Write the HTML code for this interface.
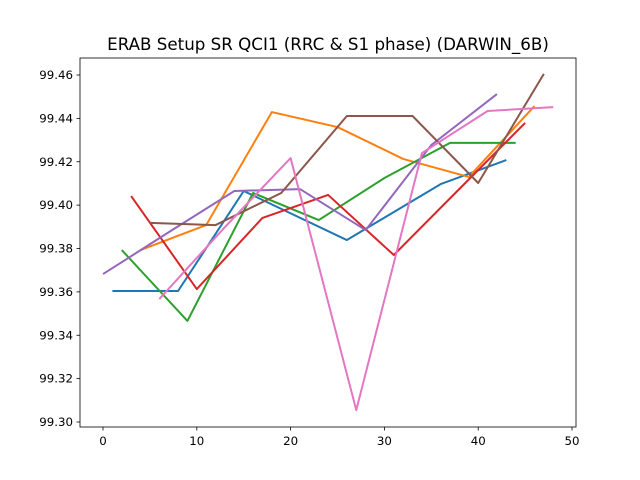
<!DOCTYPE html>
<html><head><meta charset="utf-8"><style>
body{margin:0;background:#fff}
svg{display:block;font-family:"DejaVu Sans","Liberation Sans",sans-serif}
</style></head><body>
<svg id="chart" width="640" height="480" viewBox="0 0 640 480" xmlns="http://www.w3.org/2000/svg">
<rect width="640" height="480" fill="#fff"/>
<text x="328" y="50" text-anchor="middle" font-size="16.7">ERAB Setup SR QCI1 (RRC &amp; S1 phase) (DARWIN_6B)</text>
<g id="marks"></g>
<g id="axes"></g>
</svg>
<script>
const xTicks = [0, 10, 20, 30, 40, 50];
const yTicks = [99.30, 99.32, 99.34, 99.36, 99.38, 99.40, 99.42, 99.44, 99.46];
const colors = ["#1f77b4","#ff7f0e","#2ca02c","#d62728","#9467bd","#8c564b","#e377c2"];
const xBlue = [1, 8, 15, 26, 36, 43];
const yBlue = [99.3604, 99.3604, 99.4065, 99.3839, 99.4097, 99.4208];
const xOrange = [4, 11, 18, 25, 32, 39, 46];
const yOrange = [99.3793, 99.3908, 99.4429, 99.4360, 99.4213, 99.4130, 99.4457];
const xGreen = [2, 9, 16, 23, 30, 37, 44];
const yGreen = [99.3793, 99.3466, 99.4056, 99.3931, 99.4125, 99.4287, 99.4287];
const xRed = [3, 10, 17, 24, 31, 38, 45];
const yRed = [99.4042, 99.3613, 99.3941, 99.4047, 99.3770, 99.4075, 99.4379];
const xPurple = [0, 7, 14, 21, 28, 35, 42];
const yPurple = [99.3682, 99.3875, 99.4065, 99.4074, 99.3885, 99.4277, 99.4512];
const xBrown = [5, 12, 19, 26, 33, 40, 47];
const yBrown = [99.3918, 99.3908, 99.4056, 99.4411, 99.4411, 99.4102, 99.4605];
const xPink = [6, 13, 20, 27, 34, 41, 48];
const yPink = [99.3567, 99.3899, 99.4217, 99.3055, 99.4240, 99.4434, 99.4452];

const NS = "http://www.w3.org/2000/svg";
const L = 80, R = 576, T = 58, B = 427;
function sx(v){ return 103 + v * 9.38; }
function sy(v){ return 422 - (v - 99.30) * 2168.75; }

const marks = document.getElementById('marks');
const series = [[xBlue,yBlue],[xOrange,yOrange],[xGreen,yGreen],[xRed,yRed],[xPurple,yPurple],[xBrown,yBrown],[xPink,yPink]];
const names = ["series-blue","series-orange","series-green","series-red","series-purple","series-brown","series-pink"];
series.forEach((s, i) => {
  const p = document.createElementNS(NS, 'polyline');
  p.setAttribute('points', s[0].map((x, j) => sx(x) + ',' + sy(s[1][j])).join(' '));
  p.setAttribute('fill', 'none');
  p.setAttribute('stroke', colors[i]);
  p.setAttribute('stroke-width', '2');
  p.setAttribute('stroke-linejoin', 'round');
  
  
  marks.appendChild(p);
});

const axes = document.getElementById('axes');
const frame = document.createElementNS(NS, 'rect');
frame.setAttribute('x', L); frame.setAttribute('y', T);
frame.setAttribute('width', R - L); frame.setAttribute('height', B - T);
frame.setAttribute('fill', 'none'); frame.setAttribute('stroke', '#000'); frame.setAttribute('stroke-width', '0.8');


axes.appendChild(frame);

xTicks.forEach(t => {
  const x = sx(t);
  const ln = document.createElementNS(NS, 'line');
  ln.setAttribute('x1', x); ln.setAttribute('x2', x); ln.setAttribute('y1', B); ln.setAttribute('y2', B + 3.5);
  ln.setAttribute('stroke', '#000'); ln.setAttribute('stroke-width', '0.8');
  
  
  axes.appendChild(ln);
  const tx = document.createElementNS(NS, 'text');
  tx.setAttribute('x', x); tx.setAttribute('y', B + 18); tx.setAttribute('text-anchor', 'middle'); tx.setAttribute('font-size', '11.8');
  tx.textContent = t;
  
  
  axes.appendChild(tx);
});
yTicks.forEach(t => {
  const y = sy(t);
  const ln = document.createElementNS(NS, 'line');
  ln.setAttribute('x1', L - 3.5); ln.setAttribute('x2', L); ln.setAttribute('y1', y); ln.setAttribute('y2', y);
  ln.setAttribute('stroke', '#000'); ln.setAttribute('stroke-width', '0.8');
  
  
  axes.appendChild(ln);
  const tx = document.createElementNS(NS, 'text');
  tx.setAttribute('x', L - 7); tx.setAttribute('y', y + 4); tx.setAttribute('text-anchor', 'end'); tx.setAttribute('font-size', '11.8');
  tx.textContent = t.toFixed(2);
  
  
  axes.appendChild(tx);
});
</script>
</body></html>
